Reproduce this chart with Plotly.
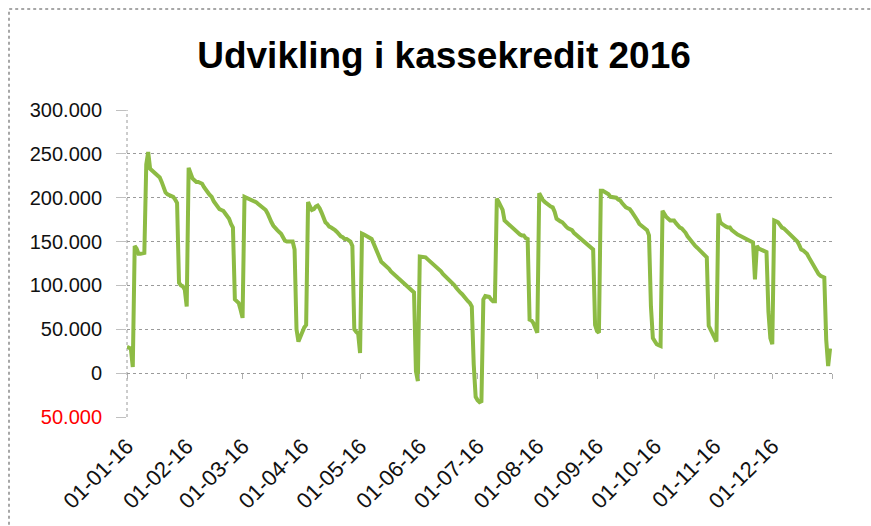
import pandas as pd
import plotly.graph_objects as go

# Daily balance (in thousands DKK), one list per month
jan = [30, 29, 28, 7, 145, 142, 136, 136, 136, 137, 238, 252, 233, 231, 229, 228, 226, 223, 218, 212,
       206, 204, 203, 202, 201, 198, 194, 103, 100, 99, 95]
feb = [76, 234, 228, 222, 220, 218, 218, 217, 216, 212, 208, 206, 203, 201, 196, 193, 190, 187, 186, 185,
       182, 179, 176, 170, 166, 84, 82, 80, 72]
mar = [63, 201, 200, 199, 199, 198, 197, 195, 193, 191, 189, 188, 186, 182, 176, 172, 168, 165, 163, 161,
       159, 155, 151, 150, 150, 150, 150, 141, 50, 36, 42]
apr = [48, 52, 55, 195, 190, 186, 187, 190, 191, 188, 183, 178, 172, 170, 167, 166, 165, 163, 161, 158,
       156, 155, 153, 153, 152, 150, 145, 50, 47, 45]
may = [23, 159, 158, 157, 155, 154, 153, 148, 142, 138, 133, 127, 125, 123, 122, 119, 116, 114, 112, 111,
       109, 107, 105, 102, 100, 98, 96, 94, 92, 2, -9]
jun = [133, 133, 132, 132, 130, 128, 126, 124, 122, 120, 119, 116, 113, 111, 108, 106, 104, 103, 100, 97,
       94, 92, 90, 87, 85, 82, 80, 76, 10, -27]
jul = [-31, -33, -32, 84, 88, 88, 87, 84, 82, 82, 199, 195, 190, 186, 174, 172, 170, 168, 166, 164,
       162, 159, 158, 157, 157, 154, 153, 61, 60, 57, 52]
aug = [46, 205, 200, 197, 195, 193, 191, 190, 189, 184, 176, 174, 173, 172, 169, 167, 165, 164, 163, 160,
       158, 157, 154, 152, 150, 148, 147, 145, 143, 141, 55]
sep = [48, 46, 208, 208, 207, 206, 204, 201, 201, 201, 200, 198, 197, 194, 191, 189, 188, 187, 184, 181,
       178, 174, 170, 168, 166, 165, 163, 157, 76, 40]
okt = [36, 33, 32, 31, 185, 181, 178, 176, 174, 174, 174, 171, 168, 166, 165, 163, 160, 156, 153, 150,
       147, 145, 143, 141, 139, 136, 134, 132, 54, 50, 46]
nov = [40, 36, 182, 172, 170, 168, 167, 166, 166, 163, 161, 159, 158, 157, 156, 155, 154, 153, 152, 150,
       149, 107, 145, 142, 141, 140, 139, 138, 70, 40]
dec = [33, 174, 173, 172, 169, 166, 165, 163, 161, 159, 157, 155, 153, 150, 146, 141, 140, 138, 136, 132,
       128, 124, 119, 115, 113, 111, 110, 109, 38, 8, 28]

months = [jan, feb, mar, apr, may, jun, jul, aug, sep, okt, nov, dec]
values = [v * 1000 for m in months for v in m]
dates = pd.date_range("2016-01-01", "2016-12-31", freq="D")

x_tick_vals = ["2016-01-01", "2016-02-01", "2016-03-01", "2016-04-01", "2016-05-01", "2016-06-01",
               "2016-07-01", "2016-08-01", "2016-09-01", "2016-10-01", "2016-11-01", "2016-12-01",
               "2017-01-01"]
x_tick_text = ["01-01-16", "01-02-16", "01-03-16", "01-04-16", "01-05-16", "01-06-16",
               "01-07-16", "01-08-16", "01-09-16", "01-10-16", "01-11-16", "01-12-16", ""]
y_tick_vals = [-50000, 0, 50000, 100000, 150000, 200000, 250000, 300000]
y_tick_text = ["<span style='color:#ff0000'>50.000</span>", "0", "50.000", "100.000",
               "150.000", "200.000", "250.000", "300.000"]
y_min, y_max = -50000, 300000

font_family = "Liberation Sans, Arial, sans-serif"
grid_col = "#9a9a9a"

fig = go.Figure()
fig.add_trace(go.Scatter(x=dates, y=values, mode="lines",
                         line=dict(color="#8DBB44", width=4),
                         showlegend=False, hoverinfo="x+y"))
# carrier trace for the tick marks drawn on the zero line
fig.add_trace(go.Scatter(x=dates, y=values, mode="lines", xaxis="x2",
                         line=dict(width=0, color="rgba(0,0,0,0)"),
                         showlegend=False, hoverinfo="skip"))

fig.update_layout(
    width=871, height=526,
    paper_bgcolor="white", plot_bgcolor="white",
    margin=dict(l=127, r=39, t=110, b=109),
    font=dict(family=font_family, color="#111111", size=20),
    title=dict(text="<b>Udvikling i kassekredit 2016</b>",
               font=dict(family=font_family, size=37, color="#000000"),
               xref="container", x=444 / 871, xanchor="center",
               yref="container", y=1 - 55 / 526, yanchor="middle"),
    xaxis=dict(type="date", range=["2016-01-01", "2017-01-01"],
               tickmode="array", tickvals=x_tick_vals, ticktext=x_tick_text,
               tickangle=-45, ticks="", showgrid=False, zeroline=False,
               showline=False, tickfont=dict(size=22, color="#111111"),
               ticklabelstandoff=11),
    xaxis2=dict(type="date", overlaying="x", matches="x", anchor="free",
                position=(0 - y_min) / (y_max - y_min),
                range=["2016-01-01", "2017-01-01"],
                tickmode="array", tickvals=x_tick_vals, ticks="outside",
                ticklen=5, tickcolor="#b0b0b0", tickwidth=1,
                showticklabels=False, showgrid=False, zeroline=False, showline=False),
    yaxis=dict(range=[y_min, y_max], tickmode="array", tickvals=y_tick_vals,
               ticktext=y_tick_text, showgrid=True, gridcolor=grid_col,
               griddash="dot", gridwidth=1, zeroline=False, showline=False,
               ticks="outside", ticklen=10, tickcolor="#c0c0c0", tickwidth=1,
               ticklabelstandoff=10, tickfont=dict(size=20, color="#111111")),
    shapes=[
        dict(type="line", xref="x domain", yref="y domain", x0=0, x1=0, y0=0, y1=1,
             line=dict(color=grid_col, width=1, dash="dot"), layer="below"),
        dict(type="rect", xref="paper", yref="paper",
             x0=(9 - 127) / 705, x1=1.3, y0=-0.6, y1=(417 - 9) / 307,
             line=dict(color="#8a8a8a", width=1.5, dash="dot"), layer="below"),
    ],
)

fig.write_html("out.html", config={"displayModeBar": False},
               post_script="document.body.style.margin='0';")
